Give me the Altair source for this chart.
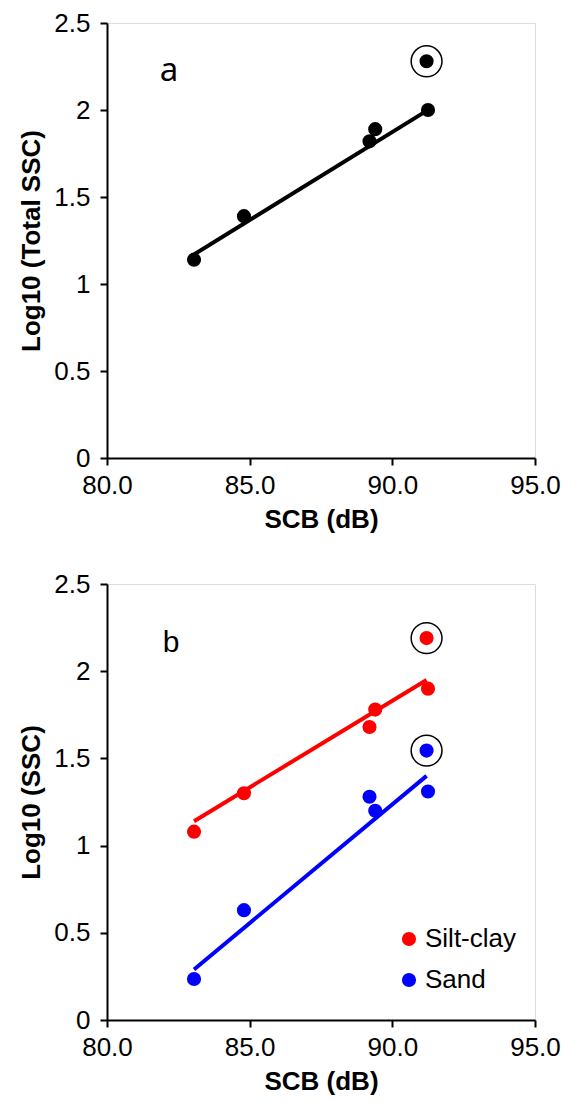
import altair as alt
import pandas as pd

# ---- data ----
scb = [83.05, 84.8, 89.2, 89.4, 91.25]
total_ssc = [1.14, 1.39, 1.82, 1.89, 2.00]
silt_clay = [1.08, 1.30, 1.68, 1.78, 1.90]
sand = [0.235, 0.63, 1.28, 1.20, 1.31]

outlier_scb = 91.2
outlier_total = 2.28
outlier_silt = 2.19
outlier_sand = 1.545

trend_x = [83.05, 91.2]
trend_total = [1.17, 1.995]
trend_silt = [1.14, 1.95]
trend_sand = [0.29, 1.40]

series_names = ["Silt-clay", "Sand"]
series_colors = ["#FF0000", "#0000FF"]

x_ticks = [80, 85, 90, 95]
y_ticks = [0, 0.5, 1, 1.5, 2, 2.5]

FONT = "Liberation Sans"
FS = 26
W = 428
HA = 435
HB = 436

xscale = alt.Scale(domain=[80, 95], nice=False, zero=False)
yscale = alt.Scale(domain=[0, 2.5], nice=False)

def xax(title):
    return alt.Axis(title=title, values=x_ticks, format=".1f", grid=False,
                    domainColor="black", domainWidth=2, tickColor="black",
                    tickWidth=2, tickSize=7, labelFont=FONT, labelFontSize=FS,
                    labelColor="black", labelPadding=7, titleFont=FONT,
                    titleFontSize=FS, titleFontWeight="bold", titleColor="black",
                    titlePadding=8, labelFlush=False)

def yax(title):
    return alt.Axis(title=title, values=y_ticks, format="~g", grid=False,
                    domainColor="black", domainWidth=2, tickColor="black",
                    tickWidth=2, tickSize=7, labelFont=FONT, labelFontSize=FS,
                    labelColor="black", labelPadding=10, titleFont=FONT,
                    titleFontSize=FS, titleFontWeight="bold", titleColor="black",
                    titlePadding=9, labelFlush=False)

# ---- panel a ----
df_a = pd.DataFrame({"SCB": scb, "val": total_ssc})
df_a_out = pd.DataFrame({"SCB": [outlier_scb], "val": [outlier_total]})
df_a_tr = pd.DataFrame({"SCB": trend_x, "val": trend_total})

base_x = alt.X("SCB:Q", scale=xscale, axis=xax("SCB (dB)"))
base_ya = alt.Y("val:Q", scale=yscale, axis=yax("Log10 (Total SSC)"))

a_line = alt.Chart(df_a_tr).mark_line(color="black", strokeWidth=4).encode(x=base_x, y=base_ya)
a_pts = alt.Chart(df_a).mark_circle(color="black", size=200, opacity=1).encode(x=base_x, y=base_ya)
a_out = alt.Chart(df_a_out).mark_circle(color="black", size=200, opacity=1).encode(x=base_x, y=base_ya)
a_ring = alt.Chart(df_a_out).mark_point(shape="circle", filled=False, color="black",
                                        size=950, strokeWidth=1.5, opacity=1).encode(x=base_x, y=base_ya)
a_lab = alt.Chart(pd.DataFrame({"t": ["a"]})).mark_text(
    font="Noto Sans", fontSize=33, align="center", baseline="alphabetic", color="black"
).encode(x=alt.value(62), y=alt.value(58), text="t:N")

panel_a = alt.layer(a_line, a_pts, a_out, a_ring, a_lab).properties(width=W, height=HA)

# ---- panel b ----
df_b = pd.DataFrame({
    "SCB": scb + scb,
    "val": silt_clay + sand,
    "type": [series_names[0]] * len(scb) + [series_names[1]] * len(scb),
})
df_b_out = pd.DataFrame({
    "SCB": [outlier_scb, outlier_scb],
    "val": [outlier_silt, outlier_sand],
    "type": series_names,
})
df_b_tr = pd.DataFrame({
    "SCB": trend_x + trend_x,
    "val": trend_silt + trend_sand,
    "type": [series_names[0]] * 2 + [series_names[1]] * 2,
})

base_yb = alt.Y("val:Q", scale=yscale, axis=yax("Log10 (SSC)"))
legend = alt.Legend(title=None, orient="none", legendX=289, legendY=903,
                    symbolType="circle", symbolSize=200, symbolStrokeWidth=0,
                    symbolOpacity=1, labelFont=FONT, labelFontSize=FS,
                    labelColor="black", labelOffset=3, rowPadding=15, padding=0)
color_enc = alt.Color("type:N", scale=alt.Scale(domain=series_names, range=series_colors),
                      legend=legend)

b_line = alt.Chart(df_b_tr).mark_line(strokeWidth=4).encode(
    x=base_x, y=base_yb, color=color_enc)
b_pts = alt.Chart(df_b).mark_circle(size=200, opacity=1).encode(x=base_x, y=base_yb, color=color_enc)
b_out = alt.Chart(df_b_out).mark_circle(size=200, opacity=1).encode(
    x=base_x, y=base_yb, color=color_enc)
b_ring = alt.Chart(df_b_out).mark_point(shape="circle", filled=False, color="black",
                                        size=950, strokeWidth=1.5, opacity=1).encode(x=base_x, y=base_yb)
b_lab = alt.Chart(pd.DataFrame({"t": ["b"]})).mark_text(
    font=FONT, fontSize=30, align="center", baseline="alphabetic", color="black"
).encode(x=alt.value(64), y=alt.value(68), text="t:N")

panel_b = alt.layer(b_line, b_pts, b_out, b_ring, b_lab).properties(width=W, height=HB)

chart = alt.vconcat(panel_a, panel_b, spacing=126, bounds="flush").properties(
    padding={"left": 18, "top": 9, "right": 0, "bottom": 0}
).configure_view(stroke=None).configure(background="white")

chart.save("out.html", embed_options={"renderer": "svg", "actions": False})
